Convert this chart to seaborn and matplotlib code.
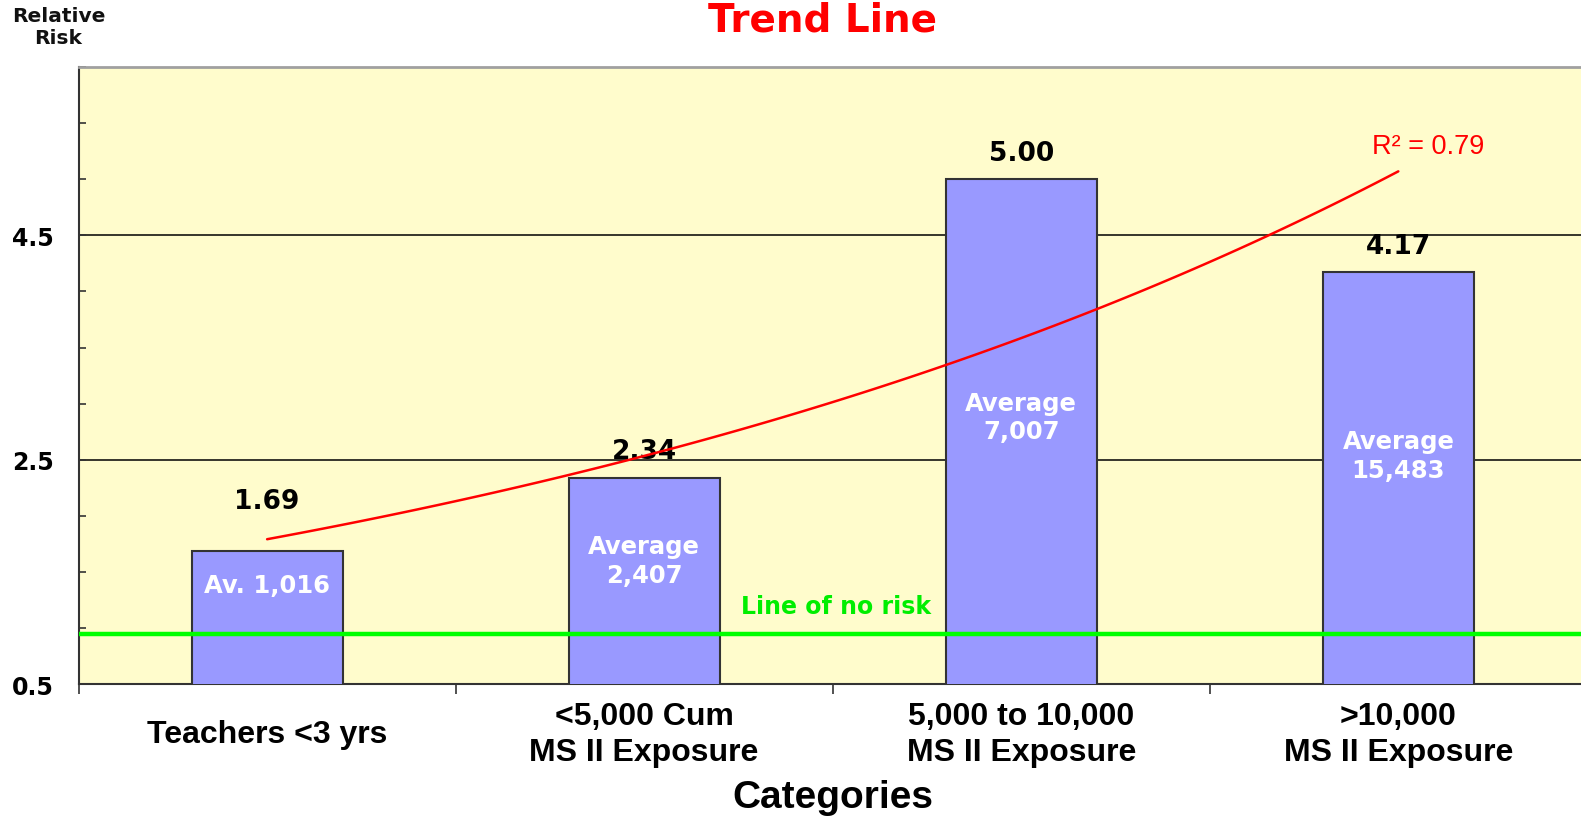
# Relative risk bar chart with an exponential trend line (seaborn barplot)

import numpy as np
import matplotlib
matplotlib.use("Agg")
from matplotlib import pyplot as plt
from matplotlib.ticker import MultipleLocator, FixedLocator
import seaborn as sns

# ---- data ----
categories = ["Teachers <3 yrs",
              "<5,000 Cum\nMS II Exposure",
              "5,000 to 10,000\nMS II Exposure",
              ">10,000\nMS II Exposure"]
relative_risk = [1.69, 2.34, 5.00, 4.17]
value_labels = ["1.69", "2.34", "5.00", "4.17"]
inner_labels = ["Av. 1,016", "Average\n2,407", "Average\n7,007", "Average\n15,483"]
no_risk_level = 0.95
r_squared_text = "R\u00b2 = 0.79"

# placement of the annotations (points above bar top / data y of inner text)
label_pad = [36, 19, 19, 19]
inner_y = [1.38, 1.60, 2.88, 2.54]

sns.set_theme(style="white")
plt.rcParams["font.family"] = ["DejaVu Sans"]

fig = plt.figure(figsize=(15.81, 8.2), dpi=100)
ax = fig.add_axes([0.0497, 0.1646, 0.954, 0.7524])
ax.set_facecolor("#FFFCCC")

# bars
sns.barplot(x=categories, y=relative_risk, width=0.4, color="#9999FF",
            saturation=1, edgecolor="#333333", linewidth=1.5, ax=ax, zorder=3)

ax.set_xlim(-0.5, 3.5)
ax.set_ylim(0.5, 6.0)

# grid only on major y ticks
ax.yaxis.set_major_locator(FixedLocator([0.5, 2.5, 4.5]))
ax.yaxis.set_minor_locator(MultipleLocator(0.5))
ax.set_yticklabels(["0.5", "2.5", "4.5"])
ax.grid(axis="y", which="major", color="black", linewidth=1.1, zorder=1)
ax.set_axisbelow(True)
ax.tick_params(axis="y", which="both", direction="in", length=5, width=1.2,
               color="#333333", left=True, pad=18, labelsize=17,
               labelcolor="black")
for lbl in ax.get_yticklabels():
    lbl.set_fontweight("bold")

# x: labels at category centres, small ticks at category boundaries
ax.xaxis.set_minor_locator(FixedLocator([-0.5, 0.5, 1.5, 2.5, 3.5]))
ax.tick_params(axis="x", which="major", length=0, pad=36)
ax.tick_params(axis="x", which="minor", direction="out", length=7, width=1.2,
               color="#333333", bottom=True)
for lbl in ax.get_xticklabels():
    lbl.set_fontfamily("Liberation Sans")
    lbl.set_fontweight("bold")
    lbl.set_fontsize(23)
    lbl.set_verticalalignment("center")
    lbl.set_linespacing(1.25)
    lbl.set_color("black")

for side in ["left", "bottom"]:
    ax.spines[side].set_color("#333333")
    ax.spines[side].set_linewidth(1.5)
ax.spines["top"].set_color("#A0A0A0")
ax.spines["top"].set_linewidth(2)
ax.spines["right"].set_visible(False)

# value labels above bars and text inside bars
for i, v in enumerate(relative_risk):
    ax.annotate(value_labels[i], xy=(i, v), xytext=(0, label_pad[i]),
                textcoords="offset points", ha="center", va="center",
                fontsize=19, fontweight="bold", color="black", zorder=6)
    ax.text(i, inner_y[i], inner_labels[i], ha="center", va="center",
            fontsize=17.5, fontweight="bold", color="white",
            linespacing=1.25, zorder=6)

# line of no risk
ax.axhline(no_risk_level, color="#00FF00", linewidth=3.2, zorder=5)
ax.text(1.51, 1.2, "Line of no risk", ha="center", va="center",
        fontsize=17, fontweight="bold", color="#00EE00", zorder=6)

# exponential trend line fitted to the bar values
pos = np.arange(len(relative_risk))
slope, intercept = np.polyfit(pos, np.log(relative_risk), 1)
xs = np.linspace(pos[0], pos[-1], 100)
sns.lineplot(x=xs, y=np.exp(intercept + slope * xs), color="red",
             linewidth=1.8, ax=ax, zorder=7)
ax.text(2.93, 5.3, r_squared_text, ha="left", va="center",
        fontsize=19.5, color="red", family="Liberation Sans", zorder=7)

# titles
fig.text(0.52, 0.962, "Trend Line", ha="center", va="baseline",
         fontsize=28, fontweight="bold", color="red")
fig.text(0.037, 0.992, "Relative\nRisk", ha="center", va="top",
         fontsize=14.5, fontweight="bold", color="#111111", linespacing=1.25)
ax.set_xlabel("Categories", fontsize=28, fontweight="bold",
              family="Liberation Sans", labelpad=9, color="black")
ax.set_ylabel("")

fig.savefig("out.png", dpi=100)
